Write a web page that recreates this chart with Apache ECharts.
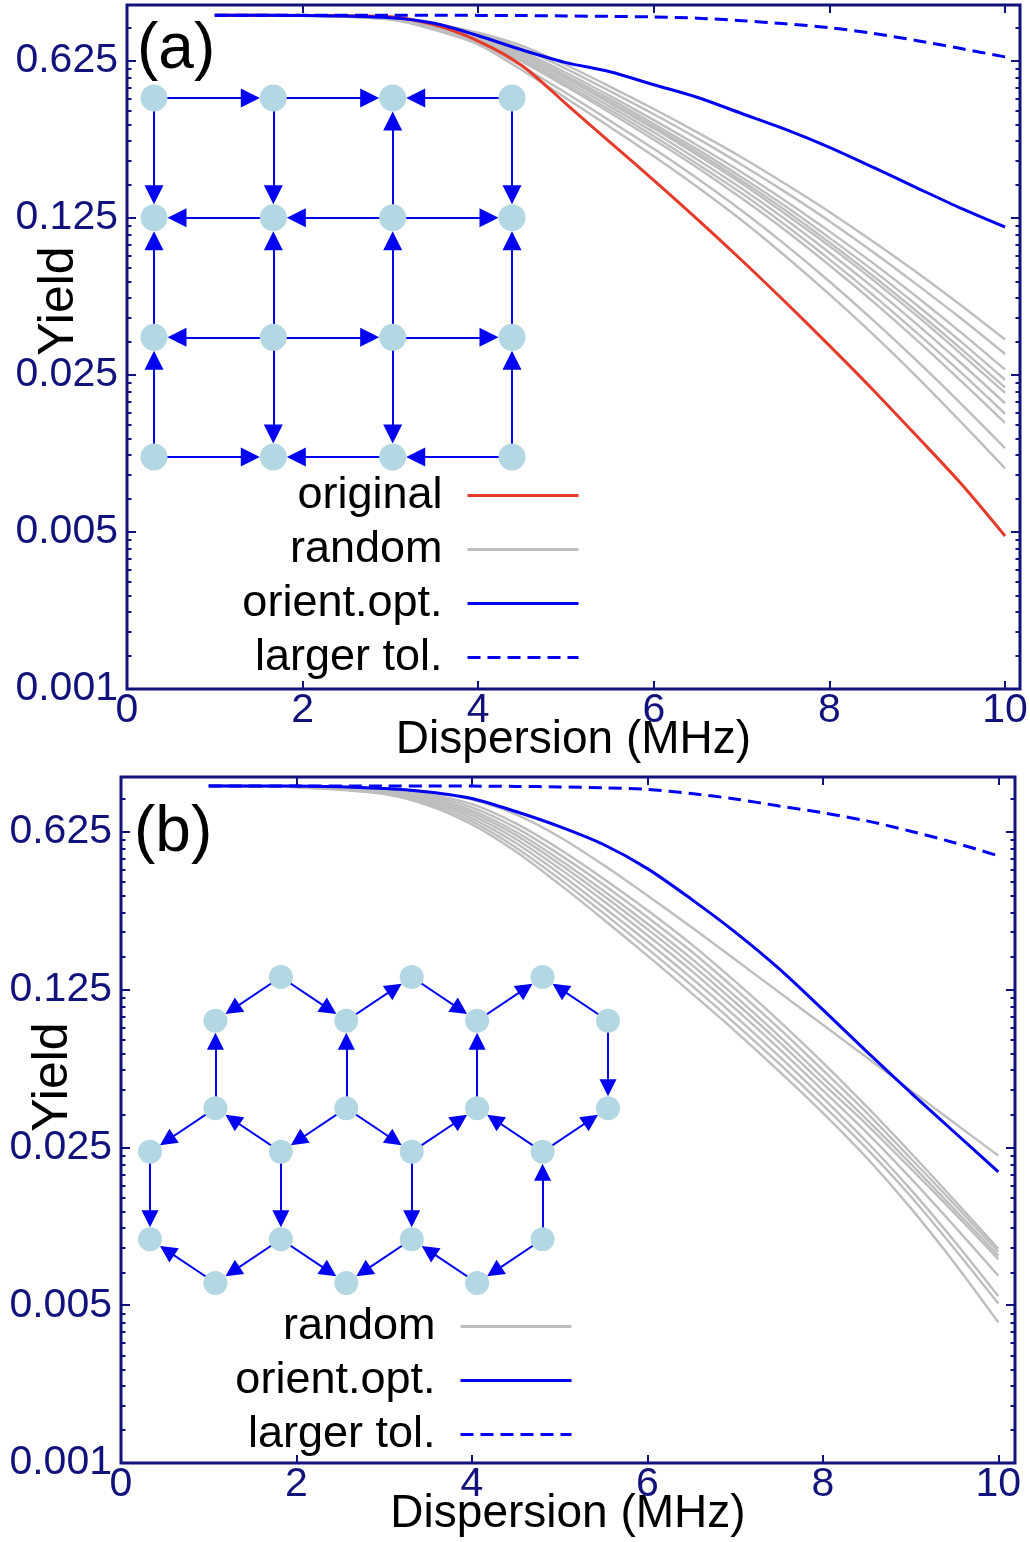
<!DOCTYPE html>
<html><head><meta charset="utf-8">
<script src="https://cdn.jsdelivr.net/npm/echarts@6/dist/echarts.min.js"></script>
<style>html,body{margin:0;padding:0;background:#fff}#c{width:1030px;height:1542px}</style>
</head><body><div id="c"></div>
<script>
// ---------- data ----------
const xTickValues = [0, 2, 4, 6, 8, 10];
const xTickLabels = ['0', '2', '4', '6', '8', '10'];
const yTickValues = [0.001, 0.005, 0.025, 0.125, 0.625];
const yTickLabels = ['0.001', '0.005', '0.025', '0.125', '0.625'];
const yMinorTickValues = [
  0.0014, 0.0018, 0.0022, 0.0026, 0.003, 0.0034, 0.0038, 0.0042, 0.0046,
  0.007, 0.009, 0.011, 0.013, 0.015, 0.017, 0.019, 0.021, 0.023,
  0.035, 0.045, 0.055, 0.065, 0.075, 0.085, 0.095, 0.105, 0.115,
  0.175, 0.225, 0.275, 0.325, 0.375, 0.425, 0.475, 0.525, 0.575,
  0.875
];

// Dispersion (MHz) sample points shared by all curves
const dispersion = [1, 2, 3, 3.5, 4, 4.5, 5, 5.5, 6, 6.5, 7, 7.5, 8, 8.5, 9, 9.5, 10];

// Panel (a) — yields
const originalA = [1, 0.998, 0.985, 0.905, 0.767, 0.596, 0.403, 0.272, 0.184, 0.123, 0.0811, 0.0527, 0.0338, 0.0214, 0.0133, 0.0082, 0.0048];
const orientOptA = [1, 0.998, 0.975, 0.92, 0.81, 0.70, 0.615, 0.56, 0.49, 0.43, 0.365, 0.31, 0.258, 0.21, 0.17, 0.138, 0.114];
const largerTolA = [1, 1, 1, 1, 0.998, 0.996, 0.992, 0.988, 0.982, 0.97, 0.945, 0.915, 0.88, 0.83, 0.77, 0.71, 0.652];
const randomA1 = [1, 0.998, 0.972, 0.92, 0.835, 0.73, 0.60, 0.481, 0.382, 0.30, 0.233, 0.177, 0.133, 0.098, 0.0713, 0.051, 0.036];
const randomA2 = [1, 0.998, 0.970, 0.913, 0.824, 0.709, 0.577, 0.459, 0.362, 0.282, 0.216, 0.163, 0.121, 0.088, 0.063, 0.0446, 0.031];
const randomA3 = [1, 0.997, 0.968, 0.906, 0.812, 0.688, 0.554, 0.437, 0.341, 0.263, 0.200, 0.149, 0.109, 0.0785, 0.0555, 0.0386, 0.0264];
const randomA4 = [1, 0.997, 0.967, 0.901, 0.804, 0.675, 0.539, 0.423, 0.328, 0.252, 0.190, 0.141, 0.102, 0.0729, 0.051, 0.0351, 0.0238];
const randomA5 = [1, 0.997, 0.966, 0.897, 0.799, 0.665, 0.528, 0.412, 0.319, 0.244, 0.183, 0.135, 0.0972, 0.0688, 0.0478, 0.0327, 0.022];
const randomA6 = [1, 0.997, 0.965, 0.895, 0.795, 0.658, 0.521, 0.405, 0.313, 0.238, 0.178, 0.130, 0.0937, 0.066, 0.0457, 0.031, 0.0208];
const randomA7 = [1, 0.997, 0.964, 0.890, 0.787, 0.645, 0.507, 0.392, 0.301, 0.227, 0.169, 0.123, 0.0876, 0.0612, 0.0419, 0.0282, 0.0187];
const randomA8 = [1, 0.997, 0.962, 0.885, 0.779, 0.632, 0.493, 0.379, 0.289, 0.217, 0.161, 0.116, 0.0818, 0.0566, 0.0384, 0.0256, 0.0168];
const randomA9 = [1, 0.997, 0.961, 0.881, 0.772, 0.621, 0.481, 0.368, 0.279, 0.209, 0.153, 0.110, 0.077, 0.0529, 0.0356, 0.0235, 0.0153];
const randomA10 = [1, 0.996, 0.958, 0.869, 0.754, 0.591, 0.450, 0.339, 0.254, 0.187, 0.135, 0.0949, 0.0652, 0.0438, 0.0288, 0.0186, 0.0118];
const randomA11 = [1, 0.996, 0.955, 0.86, 0.74, 0.569, 0.427, 0.318, 0.2355, 0.1714, 0.1222, 0.0845, 0.0571, 0.0378, 0.0244, 0.0154, 0.0096];

// Panel (b) — yields
const orientOptB = [1, 0.998, 0.975, 0.94, 0.88, 0.77, 0.66, 0.55, 0.43, 0.315, 0.225, 0.155, 0.102, 0.0665, 0.0438, 0.0292, 0.0195];
const largerTolB = [1, 1, 1, 0.999, 0.998, 0.995, 0.99, 0.98, 0.965, 0.925, 0.875, 0.815, 0.76, 0.70, 0.63, 0.56, 0.49];
const randomB1 = [1, 0.998, 0.975, 0.942, 0.869, 0.748, 0.594, 0.446, 0.327, 0.237, 0.170, 0.122, 0.0874, 0.0626, 0.0448, 0.0321, 0.023];
const randomB2 = [1, 0.995, 0.964, 0.920, 0.830, 0.682, 0.524, 0.388, 0.281, 0.199, 0.136, 0.091, 0.0594, 0.0379, 0.0237, 0.0146, 0.0089];
const randomB3 = [1, 0.994, 0.957, 0.905, 0.804, 0.653, 0.496, 0.365, 0.262, 0.185, 0.126, 0.0842, 0.055, 0.0356, 0.0224, 0.014, 0.00863];
const randomB4 = [1, 0.993, 0.951, 0.889, 0.780, 0.626, 0.471, 0.343, 0.245, 0.172, 0.117, 0.078, 0.051, 0.0333, 0.0212, 0.0133, 0.0083];
const randomB5 = [1, 0.992, 0.945, 0.877, 0.761, 0.605, 0.451, 0.326, 0.232, 0.162, 0.110, 0.0734, 0.0479, 0.0316, 0.0202, 0.0128, 0.008];
const randomB6 = [1, 0.990, 0.940, 0.864, 0.740, 0.582, 0.430, 0.309, 0.218, 0.152, 0.103, 0.0686, 0.0448, 0.0291, 0.0183, 0.0112, 0.00675];
const randomB7 = [1, 0.989, 0.933, 0.849, 0.718, 0.558, 0.408, 0.290, 0.204, 0.141, 0.0955, 0.0635, 0.0415, 0.0265, 0.0163, 0.0096, 0.00548];
const randomB8 = [1, 0.988, 0.927, 0.835, 0.696, 0.534, 0.387, 0.273, 0.190, 0.131, 0.0885, 0.0589, 0.0385, 0.0247, 0.0152, 0.0089, 0.00509];
const randomB9 = [1, 0.986, 0.920, 0.820, 0.675, 0.512, 0.366, 0.256, 0.177, 0.121, 0.082, 0.0545, 0.0356, 0.0225, 0.0135, 0.0077, 0.0042];

// Inset (a): 4x4 square lattice, nodes [col,row]; directed edges [from,to]
const squareNodes = [[0,0],[1,0],[2,0],[3,0],[0,1],[1,1],[2,1],[3,1],[0,2],[1,2],[2,2],[3,2],[0,3],[1,3],[2,3],[3,3]];
const squareEdges = [[0,1],[1,2],[3,2],[5,4],[6,5],[6,7],[9,8],[9,10],[10,11],[12,13],[14,13],[15,14],
  [0,4],[8,4],[12,8],[1,5],[9,5],[9,13],[6,2],[10,6],[10,14],[3,7],[11,7],[15,11]];
// Inset (b): honeycomb lattice, nodes [u,v]; directed edges [from,to]
const hexNodes = [[2,0],[4,0],[6,0],[1,1],[3,1],[5,1],[7,1],[1,3],[3,3],[5,3],[7,3],
  [0,4],[2,4],[4,4],[6,4],[0,6],[2,6],[4,6],[6,6],[1,7],[3,7],[5,7]];
const hexEdges = [[0,3],[0,4],[4,1],[1,5],[5,2],[6,2],[7,3],[8,4],[9,5],[6,10],
  [7,11],[12,7],[8,12],[8,13],[13,9],[14,9],[14,10],[11,15],[12,16],[13,17],[18,14],
  [19,15],[16,19],[16,20],[17,20],[21,17],[18,21]];

const legendA = ['original', 'random', 'orient.opt.', 'larger tol.'];
const legendB = ['random', 'orient.opt.', 'larger tol.'];

// ---------- styling ----------
const NAVY = '#12127c';
const RED = '#e63a2a';
const BLUE = '#0000f2';
const GRAY = '#bebebe';
const NODE = '#b4d8e3';
const FONT = "'Liberation Sans', Arial, Helvetica, sans-serif";
const L = Math.log10;
const yMin = 0.001, yMaxA = 1.11, yMaxB = 1.095;
const xMaxA = 10.17, xMaxB = 10.19;

function xAx(grid, pos, max, labels, name) {
  return {
    type: 'value', gridIndex: grid, position: pos, min: 0, max: max,
    axisLine: {show: false, onZero: false},
    axisTick: {show: true, inside: true, length: 8, customValues: xTickValues, lineStyle: {color: NAVY, width: 2}},
    axisLabel: {show: labels, customValues: xTickValues, margin: 1, color: NAVY, fontSize: 41, fontFamily: FONT,
      formatter: v => xTickLabels[xTickValues.indexOf(Math.round(v))] },
    splitLine: {show: false},
    name: name || '', nameLocation: 'middle', nameGap: 28, nameMoveOverlap: false,
    nameTextStyle: {fontSize: 46, color: '#000', fontFamily: FONT}
  };
}
function yAx(grid, pos, max, vals, len, labels, name, pad) {
  return {
    type: 'value', gridIndex: grid, position: pos, min: L(yMin), max: L(max),
    axisLine: {show: false, onZero: false},
    axisTick: {show: true, inside: true, length: len, customValues: vals.map(L), lineStyle: {color: NAVY, width: 2}},
    axisLabel: {show: labels, customValues: yTickValues.map(L), margin: 9, color: NAVY, fontSize: 41, fontFamily: FONT,
      formatter: v => { let k = 0; yTickValues.forEach((t, i) => { if (Math.abs(L(t) - v) < Math.abs(L(yTickValues[k]) - v)) k = i; }); return yTickLabels[k]; } },
    splitLine: {show: false},
    name: name || '', nameLocation: 'middle', nameGap: 43, nameRotate: 90, nameMoveOverlap: false,
    nameTextStyle: {fontSize: 50, color: '#000', fontFamily: FONT, padding: [0, 0, 0, pad || 0]}
  };
}
function line(name, ys, color, width, type, xi, yi, z) {
  return {
    type: 'line', name: name, xAxisIndex: xi, yAxisIndex: yi,
    data: dispersion.map((x, i) => [x, L(ys[i])]),
    showSymbol: false, symbol: 'none', smooth: 0.3, z: z,
    itemStyle: {color: color}, lineStyle: {color: color, width: width, type: type},
    emphasis: {disabled: true}, animation: false
  };
}
// directed edges: invisible enlarged nodes so that each arrow tip stops at the visible circle
function graph(nodes, edges, xi, yi, size, arrow) {
  return {
    type: 'graph', coordinateSystem: 'cartesian2d', xAxisIndex: xi, yAxisIndex: yi,
    symbol: 'circle', symbolSize: size + arrow, itemStyle: {color: NODE, opacity: 0},
    edgeSymbol: ['none', 'triangle'], edgeSymbolSize: [0, arrow],
    lineStyle: {color: BLUE, width: 2, opacity: 1, curveness: 0},
    label: {show: false}, silent: true, animation: false, z: 6,
    data: nodes.map(p => ({value: p})),
    links: edges.map(e => ({source: e[0], target: e[1]}))
  };
}
function nodesSeries(nodes, xi, yi, size) {
  return {
    type: 'scatter', xAxisIndex: xi, yAxisIndex: yi, symbol: 'circle', symbolSize: size,
    itemStyle: {color: NODE, opacity: 1}, data: nodes, silent: true, animation: false, z: 7,
    emphasis: {disabled: true}
  };
}

const series = [];
[randomA1, randomA2, randomA3, randomA4, randomA5, randomA6, randomA7, randomA8, randomA9, randomA10, randomA11]
  .forEach(g => series.push(line('random', g, GRAY, 2.4, 'solid', 0, 0, 2)));
series.push(line('original', originalA, RED, 3, 'solid', 0, 0, 4));
series.push(line('orient.opt.', orientOptA, BLUE, 3, 'solid', 0, 0, 5));
series.push(line('larger tol.', largerTolA, BLUE, 3, [13, 7], 0, 0, 5));
[randomB1, randomB2, randomB3, randomB4, randomB5, randomB6, randomB7, randomB8, randomB9]
  .forEach(g => series.push(line('random', g, GRAY, 2.4, 'solid', 2, 4, 2)));
series.push(line('orient.opt.', orientOptB, BLUE, 3, 'solid', 2, 4, 5));
series.push(line('larger tol.', largerTolB, BLUE, 3, [13, 7], 2, 4, 5));
series.push(graph(squareNodes, squareEdges, 4, 8, 27, 19));
series.push(nodesSeries(squareNodes, 4, 8, 27));
series.push(graph(hexNodes, hexEdges, 5, 9, 24, 17));
series.push(nodesSeries(hexNodes, 5, 9, 24));

const legendCommon = {
  orient: 'vertical', align: 'right', itemWidth: 111, itemHeight: 45, itemGap: 9, selectedMode: false,
  itemStyle: {opacity: 0, borderWidth: 0}, lineStyle: {width: 3},
  textStyle: {fontSize: 45, fontFamily: FONT, color: '#000', lineHeight: 45, padding: [0, 20, 0, 0]}
};

const option = {
  backgroundColor: '#fff',
  animation: false,
  grid: [
    {left: 127, top: 5, width: 893, height: 684, show: true, borderColor: NAVY, borderWidth: 3, backgroundColor: 'transparent', outerBoundsMode: 'none', containLabel: false},
    {left: 121, top: 777, width: 894, height: 686, show: true, borderColor: NAVY, borderWidth: 3, backgroundColor: 'transparent', outerBoundsMode: 'none', containLabel: false},
    {left: 154, top: 98, width: 358, height: 359, show: false, outerBoundsMode: 'none'},
    {left: 150, top: 977, width: 458, height: 306, show: false, outerBoundsMode: 'none'}
  ],
  xAxis: [
    xAx(0, 'bottom', xMaxA, true, 'Dispersion (MHz)'),
    xAx(0, 'top', xMaxA, false),
    xAx(1, 'bottom', xMaxB, true, 'Dispersion (MHz)'),
    xAx(1, 'top', xMaxB, false),
    {type: 'value', gridIndex: 2, min: 0, max: 3, show: false},
    {type: 'value', gridIndex: 3, min: 0, max: 7, show: false}
  ],
  yAxis: [
    yAx(0, 'left', yMaxA, yTickValues, 9, true, 'Yield', 92),
    yAx(0, 'left', yMaxA, yMinorTickValues, 4.5, false),
    yAx(0, 'right', yMaxA, yTickValues, 9, false),
    yAx(0, 'right', yMaxA, yMinorTickValues, 4.5, false),
    yAx(1, 'left', yMaxB, yTickValues, 9, true, 'Yield', 86),
    yAx(1, 'left', yMaxB, yMinorTickValues, 4.5, false),
    yAx(1, 'right', yMaxB, yTickValues, 9, false),
    yAx(1, 'right', yMaxB, yMinorTickValues, 4.5, false),
    {type: 'value', gridIndex: 2, min: 0, max: 3, inverse: true, show: false},
    {type: 'value', gridIndex: 3, min: 0, max: 7, inverse: true, show: false}
  ],
  legend: [
    Object.assign({data: legendA, right: 445, top: 468}, legendCommon),
    Object.assign({data: legendB, right: 452, top: 1299}, legendCommon)
  ],
  graphic: [
    {type: 'text', x: 137, y: 50, style: {text: '(a)', fontSize: 64, fontFamily: FONT, fill: '#000', align: 'left', verticalAlign: 'middle'}},
    {type: 'text', x: 134, y: 833, style: {text: '(b)', fontSize: 64, fontFamily: FONT, fill: '#000', align: 'left', verticalAlign: 'middle'}}
  ],
  series: series
};

const chart = echarts.init(document.getElementById('c'), null, {renderer: 'canvas'});
chart.setOption(option);
</script></body></html>
